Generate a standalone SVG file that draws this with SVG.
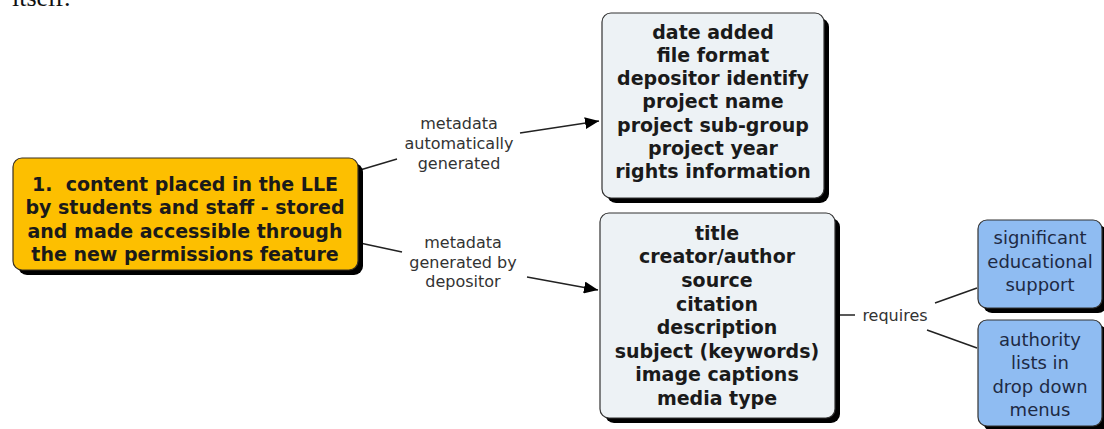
<svg xmlns="http://www.w3.org/2000/svg" width="1104" height="429" viewBox="0 0 1104 429">
<style>
.node{font-family:"DejaVu Sans","Verdana",sans-serif;font-size:19px;font-weight:bold;fill:#1a1a1a;text-anchor:middle}
.blue{font-family:"DejaVu Sans","Verdana",sans-serif;font-size:18px;fill:#1e2a44;text-anchor:middle}
.lbl{font-family:"DejaVu Sans","Verdana",sans-serif;font-size:16px;fill:#333;text-anchor:middle}
.shadow{fill:#000}
.edge{stroke:#222;stroke-width:1.5;fill:none}
</style>
<defs>
<marker id="arrow" viewBox="0 0 14 12" refX="14" refY="6" markerWidth="14" markerHeight="12" markerUnits="userSpaceOnUse" orient="auto">
<path d="M0,0 L14,6 L0,12 z" fill="#000"/>
</marker>
</defs>
<rect width="1104" height="429" fill="#fff"/>
<text x="12" y="6" font-family="Liberation Serif, serif" font-size="26" fill="#111">itself.</text>

<g id="connectors">
<path class="edge" d="M360,170 L397,159"/>
<path class="edge" d="M520,133 L599,121" marker-end="url(#arrow)"/>
<path class="edge" d="M360,243 L402,252"/>
<path class="edge" d="M527,277 L598,290" marker-end="url(#arrow)"/>
<path class="edge" d="M835,315 L855,315"/>
<path class="edge" d="M935,303 L977,288"/>
<path class="edge" d="M927,330 L977,348"/>
<text class="lbl" x="459" y="129">metadata</text>
<text class="lbl" x="459" y="149">automatically</text>
<text class="lbl" x="459" y="169">generated</text>
<text class="lbl" x="463" y="248">metadata</text>
<text class="lbl" x="463" y="268">generated by</text>
<text class="lbl" x="463" y="287">depositor</text>
<text class="lbl" x="895" y="321">requires</text>
</g>

<g id="node-content">
<rect class="shadow" x="18" y="163" width="345" height="112" rx="9"/>
<rect x="13" y="158" width="345" height="112" rx="9" fill="#fdbf00" stroke="#3a3020" stroke-width="1.2"/>
<text class="node" x="185" y="191">1.&#160; content placed in the LLE</text>
<text class="node" x="185" y="214">by students and staff - stored</text>
<text class="node" x="185" y="238">and made accessible through</text>
<text class="node" x="185" y="261">the new permissions feature</text>
</g>

<g id="node-auto">
<rect class="shadow" x="607" y="18" width="222" height="185" rx="9"/>
<rect x="602" y="13" width="222" height="185" rx="9" fill="#edf2f5" stroke="#333" stroke-width="1.2"/>
<text class="node" x="713" y="39">date added</text>
<text class="node" x="713" y="62">file format</text>
<text class="node" x="713" y="85">depositor identify</text>
<text class="node" x="713" y="108">project name</text>
<text class="node" x="713" y="132">project sub-group</text>
<text class="node" x="713" y="155">project year</text>
<text class="node" x="713" y="178">rights information</text>
</g>

<g id="node-depositor">
<rect class="shadow" x="605" y="218" width="235" height="205" rx="9"/>
<rect x="600" y="213" width="235" height="205" rx="9" fill="#edf2f5" stroke="#333" stroke-width="1.2"/>
<text class="node" x="717" y="240">title</text>
<text class="node" x="717" y="263">creator/author</text>
<text class="node" x="717" y="287">source</text>
<text class="node" x="717" y="311">citation</text>
<text class="node" x="717" y="334">description</text>
<text class="node" x="717" y="358">subject (keywords)</text>
<text class="node" x="717" y="381">image captions</text>
<text class="node" x="717" y="405">media type</text>
</g>

<g id="node-support">
<rect class="shadow" x="983" y="225" width="124" height="88" rx="9"/>
<rect x="978" y="220" width="124" height="88" rx="9" fill="#8fbcf2" stroke="#333" stroke-width="1.2"/>
<text class="blue" x="1040" y="244">significant</text>
<text class="blue" x="1040" y="268">educational</text>
<text class="blue" x="1040" y="291">support</text>
</g>

<g id="node-authority">
<rect class="shadow" x="983" y="325" width="124" height="106" rx="9"/>
<rect x="978" y="320" width="124" height="106" rx="9" fill="#8fbcf2" stroke="#333" stroke-width="1.2"/>
<text class="blue" x="1040" y="346">authority</text>
<text class="blue" x="1040" y="369">lists in</text>
<text class="blue" x="1040" y="393">drop down</text>
<text class="blue" x="1040" y="416">menus</text>
</g>
</svg>
